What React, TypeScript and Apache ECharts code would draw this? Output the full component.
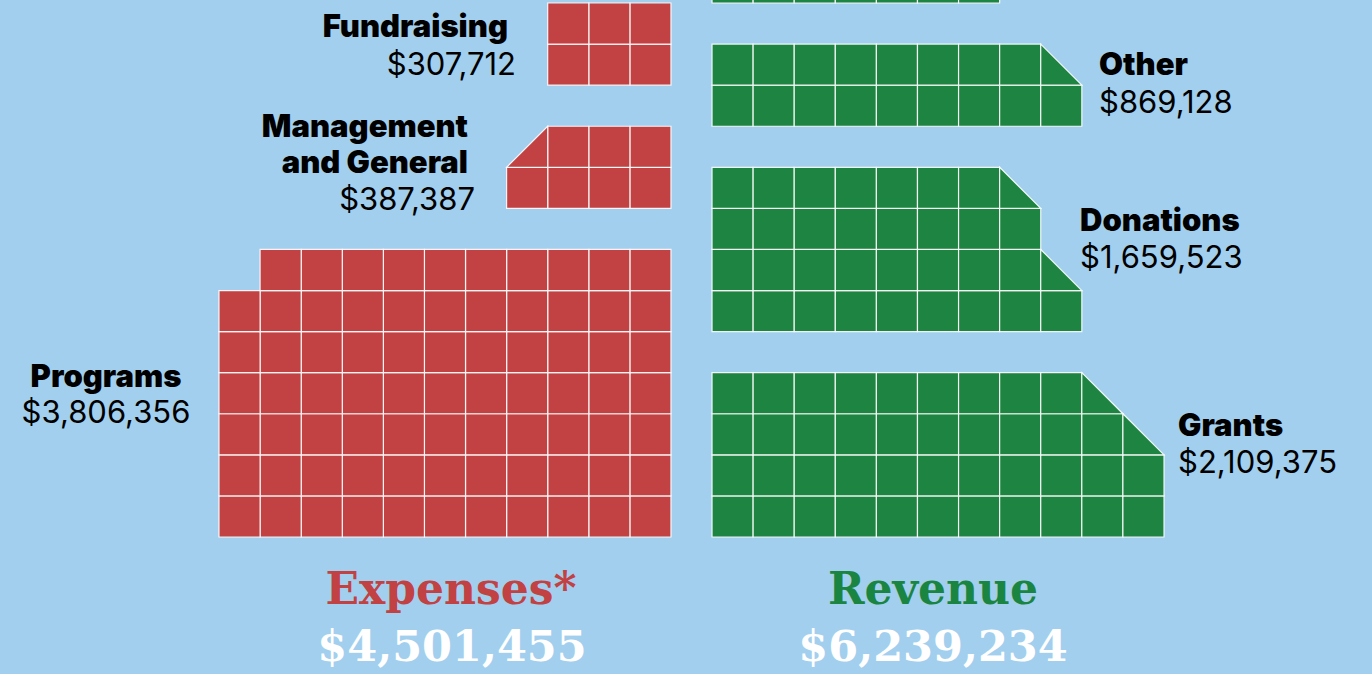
import React, { useEffect, useRef } from "react";
import * as echarts from "echarts";

// ---- data ----
const UNIT = 50000; // one square = $50,000
const expenseNames = ["Programs", "Management\nand General", "Fundraising"];
const expenseValues = [3806356, 387387, 307712];
const revenueNames = ["Grants", "Donations", "Other", "Other revenue"];
const revenueValues = [2109375, 1659523, 869128, 1601208];

// squares per row, bottom row first (.5 = half square)
const programsRows = [11, 11, 11, 11, 11, 11, 10];
const managementRows = [4, 3.5];
const fundraisingRows = [3, 3];
const grantsRows = [11, 11, 10.5, 9.5];
const donationsRows = [9, 8.5, 8, 7.5];
const otherRows = [9, 8.5];
const topRevenueRows = [7, 7, 7, 7, 4];

// ---- layout (grid rows where each block starts) ----
const expenseBase = [0, 8, 11];
const revenueBase = [0, 5, 10, 13];
const expenseRowSets = [programsRows, managementRows, fundraisingRows];
const revenueRowSets = [grantsRows, donationsRows, otherRows, topRevenueRows];

const BG = "#a2cfee";
const RED = "#c24142";
const GREEN = "#1e8441";

type Cell = [number, number, number];

function buildCells(rows: number[], base: number, side: "left" | "right"): Cell[] {
  const out: Cell[] = [];
  rows.forEach((len, r) => {
    const full = Math.floor(len);
    const half = len - full > 0;
    for (let c = 0; c < full; c++) {
      const x0 = side === "right" ? 1 + c : -(c + 1);
      out.push([x0, base + r, 0]);
    }
    if (half) {
      const x0 = side === "right" ? 1 + full : -(full + 1);
      out.push([x0, base + r, side === "right" ? 1 : 2]);
    }
  });
  return out;
}

const fmt = (v: number) => "$" + v.toLocaleString("en-US");

export default function App() {
  const ref = useRef<HTMLDivElement>(null);
  useEffect(() => {
    if (!ref.current) return;
    const chart = echarts.init(ref.current, undefined, { renderer: "svg" });

    const renderItem = (color: string) => (params: any, api: any) => {
      const x0 = api.value(0);
      const y0 = api.value(1);
      const kind = api.value(2);
      const tl = api.coord([x0, y0 + 1]);
      const br = api.coord([x0 + 1, y0]);
      const style = { fill: color, stroke: "rgba(255,255,255,0.9)", lineWidth: 1.2 };
      if (kind === 0) {
        return {
          type: "rect",
          shape: { x: tl[0], y: tl[1], width: br[0] - tl[0], height: br[1] - tl[1] },
          style,
        };
      }
      if (kind === 1) {
        return {
          type: "polygon",
          shape: { points: [[tl[0], tl[1]], [tl[0], br[1]], [br[0], br[1]]] },
          style,
        };
      }
      return {
        type: "polygon",
        shape: { points: [[br[0], tl[1]], [br[0], br[1]], [tl[0], br[1]]] },
        style,
      };
    };

    const series: any[] = [];
    expenseRowSets.forEach((rows, i) => {
      series.push({
        type: "custom",
        name: expenseNames[i],
        renderItem: renderItem(RED),
        data: buildCells(rows, expenseBase[i], "left"),
        clip: false,
      });
    });
    revenueRowSets.forEach((rows, i) => {
      series.push({
        type: "custom",
        name: revenueNames[i],
        renderItem: renderItem(GREEN),
        data: buildCells(rows, revenueBase[i], "right"),
        clip: false,
      });
    });

    const nameFont = { fontFamily: "Inter", fontWeight: 900, fontSize: 31, fill: "#000" };
    const valFont = { fontFamily: "Inter", fontWeight: 400, fontSize: 31, fill: "#000" };
    const txt = (text: string, x: number, y: number, align: string, f: any) => ({
      type: "text",
      x,
      y,
      style: { text, align, verticalAlign: "middle", lineHeight: 36, ...f },
    });

    const expTotal = expenseValues.reduce((a, b) => a + b, 0);
    const revTotal = revenueValues.reduce((a, b) => a + b, 0);
    const titleFont = { fontFamily: "DejaVu Serif", fontWeight: "bold" };

    chart.setOption({
      animation: false,
      backgroundColor: BG,
      grid: { left: 219, right: 208, top: 3, bottom: 137 },
      xAxis: { type: "value", min: -11, max: 12, show: false },
      yAxis: { type: "value", min: 0, max: 13, show: false },
      series,
      graphic: [
        txt(expenseNames[2], 508, 25, "right", nameFont),
        txt(fmt(expenseValues[2]), 516, 63, "right", valFont),
        txt(expenseNames[1], 468, 143, "right", nameFont),
        txt(fmt(expenseValues[1]), 475, 198, "right", valFont),
        txt(expenseNames[0], 106, 375, "center", nameFont),
        txt(fmt(expenseValues[0]), 106, 411, "center", valFont),
        txt(revenueNames[2], 1099, 63, "left", nameFont),
        txt(fmt(revenueValues[2]), 1099, 101, "left", valFont),
        txt(revenueNames[1], 1080, 219, "left", nameFont),
        txt(fmt(revenueValues[1]), 1080, 256, "left", valFont),
        txt(revenueNames[0], 1178, 424, "left", nameFont),
        txt(fmt(revenueValues[0]), 1178, 461, "left", valFont),
        {
          type: "text", x: 451, y: 588,
          style: { text: "Expenses*", align: "center", verticalAlign: "middle", fontSize: 44, fill: RED, ...titleFont },
        },
        {
          type: "text", x: 452, y: 646,
          style: { text: fmt(expTotal), align: "center", verticalAlign: "middle", fontSize: 43, fill: "#fff", ...titleFont },
        },
        {
          type: "text", x: 933, y: 588,
          style: { text: "Revenue", align: "center", verticalAlign: "middle", fontSize: 44, fill: "#1a8540", ...titleFont },
        },
        {
          type: "text", x: 933, y: 646,
          style: { text: fmt(revTotal), align: "center", verticalAlign: "middle", fontSize: 43, fill: "#fff", ...titleFont },
        },
      ],
    });
    return () => chart.dispose();
  }, []);
  return (
    <div
      ref={ref}
      style={{ position: "fixed", left: 0, top: 0, width: 1372, height: 674 }}
    />
  );
}
